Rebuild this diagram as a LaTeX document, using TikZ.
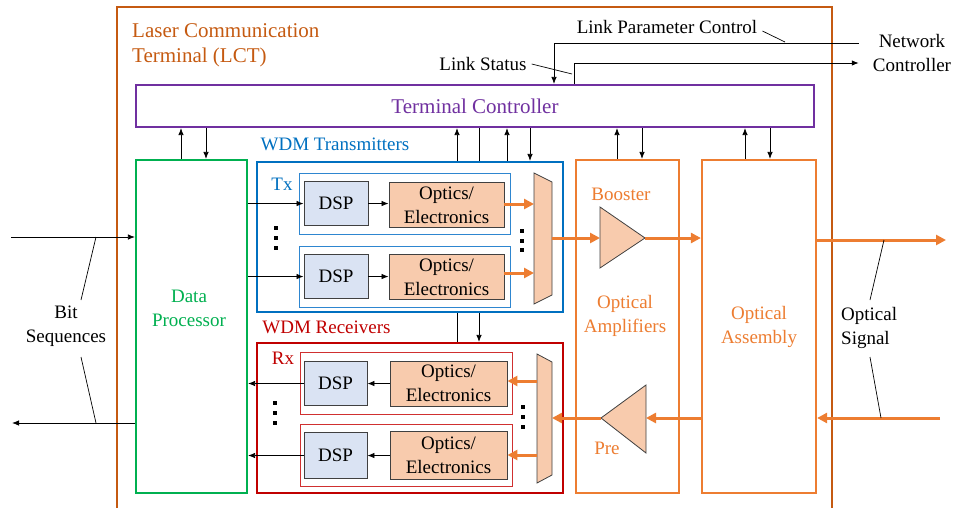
\documentclass[tikz,border=0pt]{standalone}
\usepackage{fontspec}
\setmainfont{Liberation Serif}
\usetikzlibrary{arrows.meta,calc}
\definecolor{lctc}{HTML}{C55A11}
\definecolor{purp}{HTML}{7030A0}
\definecolor{blu}{HTML}{0070C0}
\definecolor{lblu}{HTML}{2E86D0}
\definecolor{grn}{HTML}{00B050}
\definecolor{rd}{HTML}{C00000}
\definecolor{lrd}{HTML}{D03030}
\definecolor{orn}{HTML}{ED7D31}
\definecolor{dspfill}{HTML}{DAE3F3}
\definecolor{oefill}{HTML}{F8CBAD}
\definecolor{edge}{HTML}{404040}
\begin{document}
\begin{tikzpicture}[x=1pt,y=-1pt,
  txt/.style={font=\fontsize{19}{24}\selectfont, align=center, inner sep=0pt},
  bigtxt/.style={font=\fontsize{21}{25}\selectfont, inner sep=0pt},
  bigbox/.style={draw, line width=2.2pt, fill=white, inner sep=0pt},
  thinbox/.style={draw, line width=0.9pt, inner sep=0pt},
  dspbox/.style={draw=edge, line width=0.9pt, fill=dspfill, txt},
  oebox/.style={draw=edge, line width=0.9pt, fill=oefill, txt},
  muxst/.style={draw=edge, line width=0.8pt, fill=oefill},
  carr/.style={-{Latex[length=7pt,width=5.5pt]}, line width=0.8pt},
  cline/.style={line width=0.8pt},
  sarr/.style={draw=orn, line width=3pt, -{Triangle[length=10pt,width=10pt]}},
  lead/.style={line width=0.7pt},
  dotst/.style={fill=black}
]
\useasboundingbox (0,0) rectangle (954,507);

% outer LCT border
\draw[draw=lctc, line width=2.2pt] (117,515) -- (117,7) -- (832,7) -- (832,515);
\node[bigtxt, text=lctc, align=left, anchor=west] (title) at (132,45.5) {Laser Communication\\Terminal (LCT)};

% main boxes
\node[bigbox, draw=purp, minimum width=678pt, minimum height=42pt, bigtxt, text=purp] (ctrl) at (475,106) {Terminal Controller};
\node[bigbox, draw=grn, minimum width=111pt, minimum height=333pt] (dp) at (191.5,326.5) {};
\node[txt, text=grn] (dptxt) at (189,308) {Data\\Processor};
\node[bigbox, draw=blu, minimum width=306pt, minimum height=150pt] (tx) at (410,237) {};
\node[txt, text=blu] (txlabel) at (335,144) {WDM Transmitters};
\node[bigbox, draw=rd, minimum width=306pt, minimum height=150pt] (rx) at (410,418) {};
\node[txt, text=rd] (rxlabel) at (326.5,327) {WDM Receivers};
\node[bigbox, draw=orn, minimum width=103pt, minimum height=333pt] (amp) at (627.5,326.5) {};
\node[txt, text=orn] (amptxt) at (625,316) {Optical\\Amplifiers};
\node[txt, text=orn] (boost) at (621,194) {Booster};
\node[txt, text=orn] (pre) at (607,448) {Pre};
\node[bigbox, draw=orn, minimum width=114pt, minimum height=333pt, txt, text=orn] (oa) at (759,326.5) {Optical\\Assembly};

% Tx internals
\node[txt, text=blu] (txl) at (282,184) {Tx};
\node[thinbox, draw=lblu, minimum width=211pt, minimum height=61pt] (tx1) at (404.5,203.5) {};
\node[thinbox, draw=lblu, minimum width=211pt, minimum height=61pt] (tx2) at (404.5,277) {};
\node[dspbox, minimum width=64pt, minimum height=44pt] (dspt1) at (336,203.5) {DSP};
\node[dspbox, minimum width=64pt, minimum height=44pt] (dspt2) at (336,276.5) {DSP};
\node[oebox, minimum width=115pt, minimum height=45pt] (oet1) at (446.5,205) {Optics/\\Electronics};
\node[oebox, minimum width=115pt, minimum height=45pt] (oet2) at (446.5,277) {Optics/\\Electronics};
\draw[muxst] (534,173) -- (552,182) -- (552,295) -- (534,304) -- cycle;
\coordinate (txmuxin1) at (534,204);
\coordinate (txmuxin2) at (534,273);
\coordinate (txmuxout) at (552,238);

% Rx internals
\node[txt, text=rd] (rxl) at (283,358) {Rx};
\node[thinbox, draw=lrd, minimum width=212pt, minimum height=62pt] (rx1) at (406,383) {};
\node[thinbox, draw=lrd, minimum width=212pt, minimum height=62pt] (rx2) at (406,455) {};
\node[dspbox, minimum width=63pt, minimum height=44pt] (dspr1) at (335.5,383.5) {DSP};
\node[dspbox, minimum width=63pt, minimum height=46pt] (dspr2) at (335.5,455.5) {DSP};
\node[oebox, minimum width=117pt, minimum height=45pt] (oer1) at (448.5,383.5) {Optics/\\Electronics};
\node[oebox, minimum width=117pt, minimum height=48pt] (oer2) at (448.5,455.5) {Optics/\\Electronics};
\draw[muxst] (537,354) -- (552,362) -- (552,475) -- (537,483) -- cycle;
\coordinate (rxmuxout1) at (537,381);
\coordinate (rxmuxout2) at (537,455);
\coordinate (rxmuxin) at (552,418);

% dots
\foreach \x/\y in {276/228, 276/238, 276/248, 522/231, 522/241, 522/250,
                   275/403, 275/413, 275/423, 523/407, 523/417, 523/427}
  \fill[dotst] (\x-1.6,\y-1.6) rectangle (\x+1.6,\y+1.6);

% amplifiers
\draw[muxst] (600,207) -- (645,238) -- (600,268) -- cycle;
\coordinate (boostin) at (600,238);
\coordinate (boostout) at (645,238);
\draw[muxst] (646,385) -- (601,418) -- (646,453) -- cycle;
\coordinate (prein) at (646,418);
\coordinate (preout) at (601,418);

% black data arrows
\draw[carr] (dp.east |- dspt1.west) -- (dspt1.west);
\draw[carr] (dp.east |- dspt2.west) -- (dspt2.west);
\draw[carr] (dspt1.east) -- (oet1.west |- dspt1.east);
\draw[carr] (dspt2.east) -- (oet2.west |- dspt2.east);
\draw[carr] (oer1.west |- dspr1.east) -- (dspr1.east);
\draw[carr] (oer2.west |- dspr2.east) -- (dspr2.east);
\draw[carr] (dspr1.west) -- (dp.east |- dspr1.west);
\draw[carr] (dspr2.west) -- (dp.east |- dspr2.west);

% optical signal arrows
\draw[sarr] (oet1.east |- txmuxin1) -- (txmuxin1);
\draw[sarr] (oet2.east |- txmuxin2) -- (txmuxin2);
\draw[sarr] (txmuxout) -- (boostin);
\draw[sarr] (boostout) -- (oa.west |- boostout);
\coordinate (sigout) at (946,240);
\draw[sarr] (oa.east |- sigout) -- (sigout);
\coordinate (sigin) at (940,418);
\draw[sarr] (sigin) -- (oa.east |- sigin);
\draw[sarr] (oa.west |- prein) -- (prein);
\draw[sarr] (preout) -- (rxmuxin);
\draw[sarr] (rxmuxout1) -- (oer1.east |- rxmuxout1);
\draw[sarr] (rxmuxout2) -- (oer2.east |- rxmuxout2);

% controller connections
\draw[carr] (181,0 |- dp.north) -- (181,0 |- ctrl.south);
\draw[carr] (206,0 |- ctrl.south) -- (206,0 |- dp.north);
\draw[carr] (457,0 |- tx.north) -- (457,0 |- ctrl.south);
\draw[cline] (479,0 |- ctrl.south) -- (479,0 |- tx.north);
\draw[cline] (457,0 |- rx.north) -- (457,0 |- tx.south);
\draw[carr] (479,0 |- tx.south) -- (479,0 |- rx.north);
\draw[carr] (507,0 |- tx.north) -- (507,0 |- ctrl.south);
\draw[carr] (530,0 |- ctrl.south) -- (530,0 |- tx.north);
\draw[carr] (617,0 |- amp.north) -- (617,0 |- ctrl.south);
\draw[carr] (642,0 |- ctrl.south) -- (642,0 |- amp.north);
\draw[carr] (745,0 |- oa.north) -- (745,0 |- ctrl.south);
\draw[carr] (770,0 |- ctrl.south) -- (770,0 |- oa.north);

% network controller
\node[txt, inner xsep=14pt, inner ysep=0pt] (nc) at (912,53) {Network\\Controller};
\coordinate (lsy) at (0,63);
\coordinate (lpy) at (0,43);
\draw[carr] (574,0 |- ctrl.north) |- (nc.west |- lsy);
\draw[carr] (nc.west |- lpy) -| (554,0 |- ctrl.north);
\node[txt] (ls) at (483,64) {Link Status};
\node[txt] (lp) at (667,27) {Link Parameter Control};
\coordinate (lsend) at (572,74);
\coordinate (lpend) at (785,42);
\draw[lead] ([xshift=5pt]ls.east) -- (lsend);
\draw[lead] ([xshift=5pt,yshift=-4pt]lp.east) -- (lpend);

% bit sequences
\coordinate (bitin) at (11,237);
\coordinate (bitout) at (12,423);
\draw[carr] (bitin) -- (dp.west |- bitin);
\draw[carr] (dp.west |- bitout) -- (bitout);
\node[txt] (bits) at (66,326) {Bit\\Sequences};
\draw[lead] (81,300) -- (96,237);
\draw[lead] (81,357) -- (96,423);

% optical signal label
\node[txt, align=left, anchor=west] (osig) at (841,328) {Optical\\Signal};
\draw[lead] (870,300) -- (884,240);
\draw[lead] (870,357) -- (881,418);
\end{tikzpicture}
\end{document}
